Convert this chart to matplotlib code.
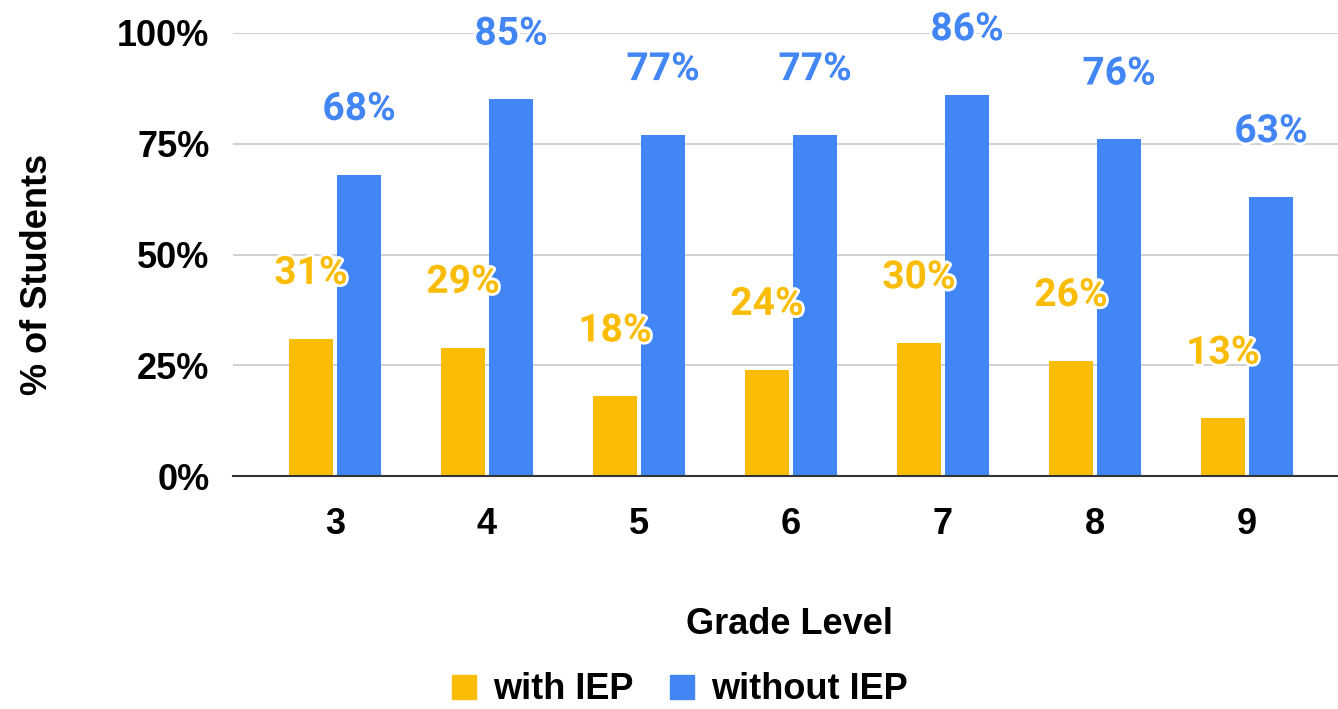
import matplotlib
matplotlib.use("Agg")
from matplotlib import pyplot as plt
from matplotlib.lines import Line2D
import matplotlib.patheffects as pe
import numpy as np

grades = ["3", "4", "5", "6", "7", "8", "9"]
with_iep = [31, 29, 18, 24, 30, 26, 13]
without_iep = [68, 85, 77, 77, 86, 76, 63]
yticks = [0, 25, 50, 75, 100]

yellow = "#FBBC04"
blue = "#4285F4"

plt.rcParams['font.family'] = ['Liberation Sans', 'DejaVu Sans']

fig = plt.figure(figsize=(13.38, 7.09), dpi=100)
ax = fig.add_axes([233 / 1338, 1 - 476 / 709, 1 - 233 / 1338, 443 / 709])

x = np.arange(len(grades))
w = 0.29
off = 0.158
ax.bar(x - off, with_iep, w, color=yellow, zorder=3)
ax.bar(x + off, without_iep, w, color=blue, zorder=3)

# value labels sit well above the bars, with a white halo
stroke = [pe.withStroke(linewidth=4, foreground="white")]
for xs, vals, col in [(x - off, with_iep, yellow), (x + off, without_iep, blue)]:
    for xi, v in zip(xs, vals):
        ax.annotate(f"{v}%", (xi, v), xytext=(0, 47), textcoords="offset points",
                    ha="center", va="center", fontsize=28, color=col,
                    family="Roboto", fontweight="bold", path_effects=stroke,
                    zorder=5, annotation_clip=False)

ax.set_xlim(-0.671, 6.599)
ax.set_ylim(0, 100)
ax.set_yticks(yticks)
ax.set_yticklabels([f"{t}%" for t in yticks])
ax.set_xticks(x)
ax.set_xticklabels(grades)
ax.tick_params(axis="both", length=0, labelsize=26)
ax.tick_params(axis="y", pad=17)
ax.tick_params(axis="x", pad=22)
for lab in ax.get_xticklabels() + ax.get_yticklabels():
    lab.set_fontweight("bold")

ax.grid(axis="y", color="#cccccc", linewidth=1.3, zorder=0)
for s in ["top", "right", "left"]:
    ax.spines[s].set_visible(False)
ax.spines["bottom"].set_color("#333333")
ax.spines["bottom"].set_linewidth(1.5)
ax.spines["bottom"].set_zorder(4)

ax.set_xlabel("Grade Level", fontsize=26, fontweight="bold")
ax.xaxis.set_label_coords(0.504, -0.296)
ax.set_ylabel("% of Students", fontsize=26, fontweight="bold")
ax.yaxis.set_label_coords(-0.161, 0.455)

handles = [Line2D([], [], marker="s", linestyle="none", markersize=17, color=yellow),
           Line2D([], [], marker="s", linestyle="none", markersize=17, color=blue)]
leg = fig.legend(handles, ["with IEP", "without IEP"], loc="center",
                 bbox_to_anchor=(0.508, 0.027), ncol=2, frameon=False,
                 prop={"size": 26, "weight": "bold"}, handlelength=0.7,
                 handletextpad=0.45, columnspacing=1.0)

fig.savefig("out.png", dpi=100)
